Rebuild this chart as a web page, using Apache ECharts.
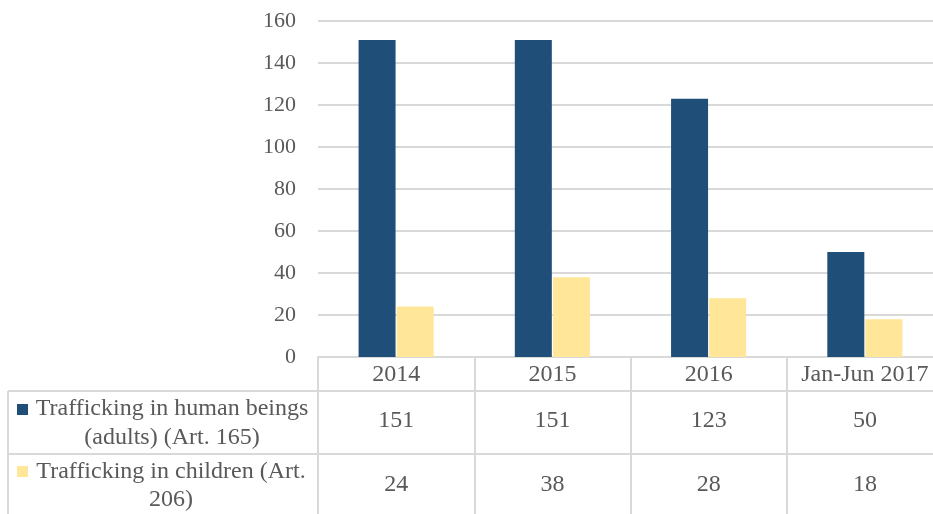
<!DOCTYPE html>
<html><head><meta charset="utf-8">
<script src="https://cdn.jsdelivr.net/npm/echarts@6/dist/echarts.min.js"></script>
<style>html,body{margin:0;padding:0;background:#fff;overflow:hidden;width:933px;height:514px}#c{width:960px;height:514px}</style>
</head><body><div id="c"></div>
<script>
const categories = ['2014', '2015', '2016', 'Jan-Jun 2017'];
const adults = [151, 151, 123, 50];
const children = [24, 38, 28, 18];
const seriesNames = ['Trafficking in human beings (adults) (Art. 165)', 'Trafficking in children (Art. 206)'];
const rowHeaderLines = [['Trafficking in human beings', '(adults) (Art. 165)'], ['Trafficking in children (Art.', '206)']];
const yTicks = { min: 0, max: 160, interval: 20 };

const FONT = '"Liberation Serif", "Times New Roman", serif';
const TXT = '#595959';
const LINE = '#d9d9d9';
const colors = ['#1F4E79', '#FFE699'];
const FS = 22;
const FT = 24;

const chart = echarts.init(document.getElementById('c'));
const gridLeft = 318, gridTop = 21, gridW = 625, gridH = 336;

function valueAxis(arr, margin) {
  return {
    type: 'category', data: categories, gridIndex: 0, position: 'bottom',
    axisLine: { show: false }, axisTick: { show: false },
    axisLabel: { margin: margin, fontFamily: FONT, fontSize: FT, color: TXT, interval: 0,
      formatter: (v, i) => String(arr[i]) }
  };
}

const graphics = [
  { type: 'line', shape: { x1: 8, y1: 391, x2: 960, y2: 391 }, style: { stroke: LINE, lineWidth: 2 } },
  { type: 'line', shape: { x1: 8, y1: 454, x2: 960, y2: 454 }, style: { stroke: LINE, lineWidth: 2 } },
  { type: 'line', shape: { x1: 8, y1: 391, x2: 8, y2: 514 }, style: { stroke: LINE, lineWidth: 2 } },
  { type: 'rect', shape: { x: 17, y: 404, width: 11, height: 11 }, style: { fill: colors[0] } },
  { type: 'rect', shape: { x: 17, y: 466, width: 11, height: 11 }, style: { fill: colors[1] } },
];
const headerY = [[409, 438], [472, 500]];
rowHeaderLines.forEach((lines, r) => {
  lines.forEach((t, k) => {
    graphics.push({ type: 'text', x: r === 0 ? 172 : 171, y: headerY[r][k],
      style: { text: t, fill: TXT, font: FT + 'px ' + FONT, textAlign: 'center', textVerticalAlign: 'middle' } });
  });
});

chart.setOption({
  animation: false,
  grid: { left: gridLeft, top: gridTop, width: gridW, height: gridH, containLabel: false },
  xAxis: [
    { type: 'category', data: categories,
      axisLine: { show: true, lineStyle: { color: LINE, width: 2 } },
      axisTick: { show: true, length: 160, lineStyle: { color: LINE, width: 2 } },
      axisLabel: { margin: 6, fontFamily: FONT, fontSize: FT, color: TXT, interval: 0 } },
    valueAxis(adults, 52),
    valueAxis(children, 116)
  ],
  yAxis: { type: 'value', min: yTicks.min, max: yTicks.max, interval: yTicks.interval,
    axisLine: { show: false }, axisTick: { show: false },
    axisLabel: { margin: 22, fontFamily: FONT, fontSize: FS, color: TXT },
    splitLine: { lineStyle: { color: LINE, width: 2 } } },
  series: [
    { name: seriesNames[0], type: 'bar', data: adults, itemStyle: { color: colors[0] },
      barWidth: 37, barGap: '3%' },
    { name: seriesNames[1], type: 'bar', data: children, itemStyle: { color: colors[1] },
      barWidth: 37, barGap: '3%' }
  ],
  graphic: graphics
});
</script></body></html>
